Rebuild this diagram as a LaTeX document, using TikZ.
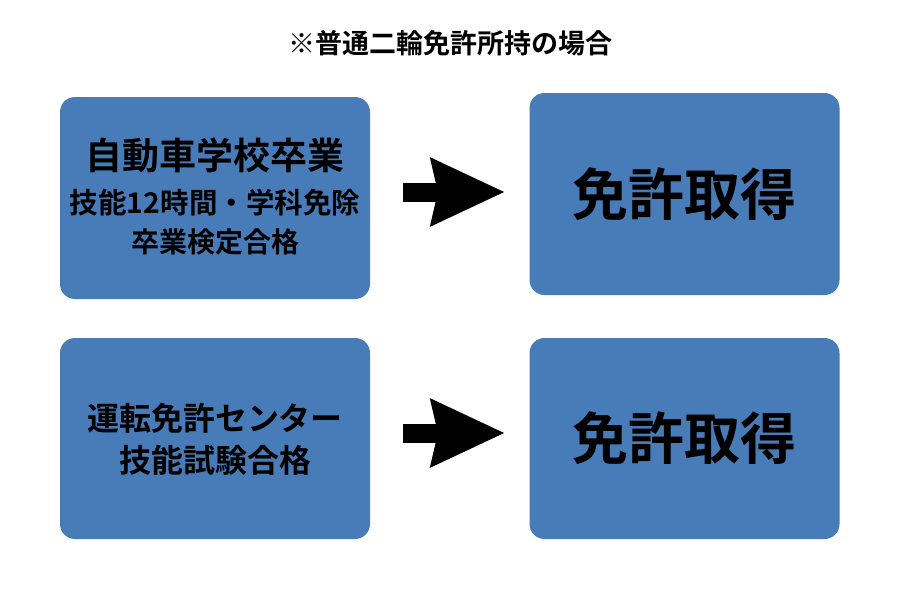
\documentclass[tikz,border=0pt]{standalone}
\usepackage{fontspec}
\usepackage{tikz}
\usetikzlibrary{arrows.meta}
\newfontfamily\jpfont{Noto Sans CJK JP}[BoldFont={Noto Sans CJK JP Bold}]
\definecolor{boxblue}{HTML}{487CB9}

\begin{document}
\begin{tikzpicture}[x=1pt, y=-1pt,
    card/.style={fill=boxblue, rounded corners=15pt, minimum width=310pt, inner sep=0pt},
    jp/.style={font=\jpfont\bfseries\fontsize{#1}{#1}\selectfont, inner sep=0pt, text=black},
    bigarrow/.style={line width=19pt, -{Stealth[length=73pt, width=65pt, inset=6pt]}}]
      \useasboundingbox (0,0) rectangle (900,600);
      \node[jp=27] (title) at (450,43) {※普通二輪免許所持の場合};
      \node[card, minimum height=202pt] (school) at (215,198) {};
      \node[card, minimum height=202pt] (licA) at (684.5,194) {};
      \node[card, minimum height=201pt] (center) at (215,438.5) {};
      \node[card, minimum height=201pt] (licB) at (684.5,438.5) {};
      \node[jp=37] (schoolA) at (215,155) {自動車学校卒業};
      \node[jp=28.5] (schoolB) at (215,203) {技能12時間・学科免除};
      \node[jp=28] (schoolC) at (215,242) {卒業検定合格};
      \node[jp=56] (licAtext) at (licA) {免許取得};
      \node[jp=32] (centerA) at (215,418) {運転免許センター};
      \node[jp=32] (centerB) at (215,460) {技能試験合格};
      \node[jp=56] (licBtext) at (licB) {免許取得};
      \coordinate (s1) at (403,192);
      \coordinate (e1) at (505,192);
      \coordinate (s2) at (403,433);
      \coordinate (e2) at (505,433);
      \draw[bigarrow] (s1) -- (e1);
      \draw[bigarrow] (s2) -- (e2);
    \end{tikzpicture}
\end{document}
